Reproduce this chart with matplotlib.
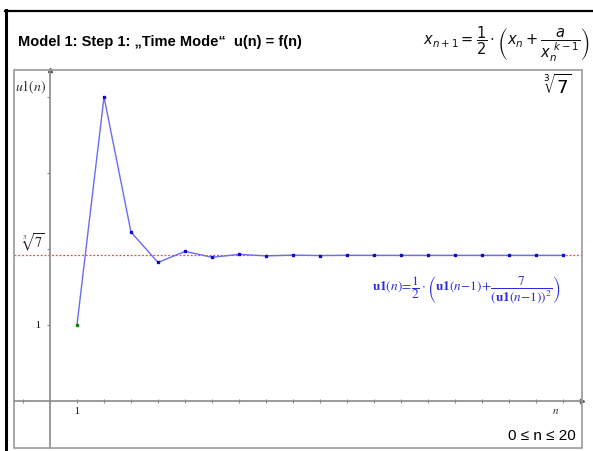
import matplotlib
matplotlib.use("Agg")
import matplotlib.pyplot as plt
from matplotlib.lines import Line2D
from matplotlib.patches import Rectangle

# ---- data ----
n_values = [1, 2, 3, 4, 5, 6, 7, 8, 9, 10, 11, 12, 13, 14, 15, 16, 17, 18, 19]
u1_values = [1.0, 4.0, 2.219, 1.820, 1.966, 1.888, 1.926, 1.907, 1.916, 1.911,
             1.914, 1.913, 1.913, 1.913, 1.913, 1.913, 1.913, 1.913, 1.913]
cube_root_7 = 1.913
x_ticks = list(range(-1, 20))
x_tick_labels = ["" if t != 1 else "1" for t in x_ticks]
y_ticks = [1, 2, 3, 4]
y_tick_labels = ["1", "", "", ""]
root_label = r"$\sqrt[3]{7}$"

W, H = 593, 451
fig = plt.figure(figsize=(W / 100, H / 100), dpi=100)
fig.patch.set_facecolor("white")

def fx(px):
    return px / W

def fy(py):
    return 1 - py / H

# outer black border (left and top)
fig.add_artist(Line2D([fx(6), fx(6)], [fy(10), fy(451)], color="black", lw=2.2, transform=fig.transFigure))
fig.add_artist(Line2D([fx(5), fx(593)], [fy(10.5), fy(10.5)], color="black", lw=1.6, transform=fig.transFigure))

# header texts
fig.text(fx(18), fy(42), "Model 1: Step 1: \u201eTime Mode\u201c  u(n) = f(n)",
         fontsize=10.5, fontweight="bold", family="Liberation Sans", va="center", ha="left")
fig.text(fx(506), fy(44),
         r"$x_{n+1} = \dfrac{1}{2}\cdot\left(x_n + \dfrac{a}{x_n^{\ k-1}}\right)$",
         fontsize=10.5, va="center", ha="center", math_fontfamily="dejavusans", color="#111111")

# axes
left, right, top, bottom = 14, 582, 70, 448
ax = fig.add_axes([fx(left), fy(bottom), (right - left) / W, (bottom - top) / H])
ax.set_xlim(-1.333, 19.7)
ax.set_ylim(-0.625, 4.356)

for s in ["top", "right"]:
    ax.spines[s].set_visible(False)
ax.spines["left"].set_position(("data", 0))
ax.spines["bottom"].set_position(("data", 0))
ax.spines["left"].set_color("#8a8a8a")
ax.spines["bottom"].set_color("#8a8a8a")
ax.spines["left"].set_linewidth(1.2)
ax.spines["bottom"].set_linewidth(1.2)

# frame
ax.add_patch(Rectangle((0, 0), 1, 1, transform=ax.transAxes, fill=False,
                       edgecolor="#9a9a9a", lw=1.2, clip_on=False, zorder=5))

ax.set_xticks(x_ticks)
ax.set_xticklabels(x_tick_labels, family="Liberation Serif", fontsize=7)
ax.set_yticks(y_ticks)
ax.set_yticklabels(y_tick_labels, family="Liberation Serif", fontsize=7)
ax.tick_params(axis="x", direction="inout", length=3, width=0.8, color="#8a8a8a", pad=3)
ax.tick_params(axis="y", direction="out", length=2.5, width=0.8, color="#8a8a8a", pad=5)
ax.text(-0.2, y_ticks[1] + 0.08, root_label, fontsize=10, ha="right", va="center",
        color="#222222", math_fontfamily="stix")

# arrow heads
ax.plot(1, 0, ">", color="#555555", markersize=3, transform=ax.get_yaxis_transform(), clip_on=False)
ax.plot(0, 1, "^", color="#555555", markersize=3, transform=ax.get_xaxis_transform(), clip_on=False)

# reference line
ax.axhline(cube_root_7, color="#f04848", lw=0.9, ls=(0, (1.5, 1.5)))

# sequence
ax.plot(n_values, u1_values, color="#6b6bf5", lw=1.0, zorder=3)
ax.plot(n_values[1:], u1_values[1:], "s", color="#0a0ad0", markersize=2, zorder=4, lw=0)
ax.plot(n_values[:1], u1_values[:1], "s", color="#108010", markersize=2, zorder=4, lw=0)

# labels inside plot
fig.text(fx(31), fy(87), r"$u1(n)$", fontsize=10, color="#333333", ha="center", va="center",
         math_fontfamily="stix")
fig.text(fx(556), fy(411), r"$n$", fontsize=8, color="#333333", ha="center", va="center",
         math_fontfamily="stix")
fig.text(fx(557), fy(86), r"$\sqrt[3]{7}$", fontsize=13, color="black", ha="center", va="center",
         math_fontfamily="dejavusans")
fig.text(fx(576), fy(436), "0 \u2264 n \u2264 20", fontsize=11, family="Liberation Sans",
         ha="right", va="center")
fig.text(fx(466), fy(290),
         r"$\mathbf{u1}(n)\!=\!\dfrac{1}{2}\cdot\left(\mathbf{u1}(n\!-\!1)\!+\!\dfrac{7}{(\mathbf{u1}(n\!-\!1))^{2}}\right)$",
         fontsize=9.5, color="#2d2dd8", ha="center", va="center", math_fontfamily="stix")

fig.savefig("out.png", dpi=100, facecolor="white")
